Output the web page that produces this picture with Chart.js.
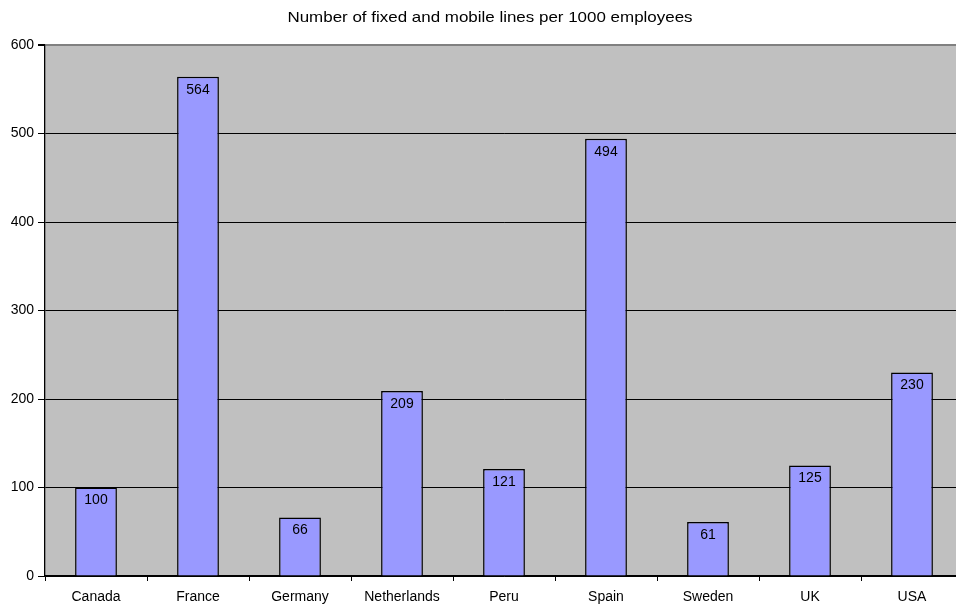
<!DOCTYPE html>
<html>
<head>
<meta charset="utf-8">
<script src="https://cdn.jsdelivr.net/npm/chart.js@4/dist/chart.umd.min.js"></script>
<style>
  html, body { margin: 0; padding: 0; background: #fff; overflow: hidden; }
  #wrap { width: 980px; height: 606px; }
</style>
</head>
<body>
<div id="wrap"><canvas id="lines" width="980" height="606"></canvas></div>
<script>
const countries = ['Canada', 'France', 'Germany', 'Netherlands', 'Peru', 'Spain', 'Sweden', 'UK', 'USA'];
const linesPer1000 = [100, 564, 66, 209, 121, 494, 61, 125, 230];
const yTicks = [0, 100, 200, 300, 400, 500, 600];

const titleText = 'Number of fixed and mobile lines per 1000 employees';
const font = 'Liberation Sans, Arial, sans-serif';

// grey plot area behind the bars
const plotBackground = {
    id: 'plotBackground',
    beforeDraw(chart) {
        const a = chart.chartArea;
        const c = chart.ctx;
        c.save();
        c.fillStyle = '#c0c0c0';
        c.fillRect(a.left, a.top, a.right - a.left, a.bottom - a.top);
        c.restore();
    }
};

// title (slightly widened) and the value written inside the top of each bar
const textLayer = {
    id: 'textLayer',
    afterDraw(chart) {
        const c = chart.ctx;
        c.save();
        c.fillStyle = '#000';
        c.textAlign = 'center';
        c.textBaseline = 'middle';

        c.save();
        c.translate(490, 18);
        c.scale(1.13, 1);
        c.font = '15px ' + font;
        c.fillText(titleText, 0, 0);
        c.restore();

        c.font = '14px ' + font;
        const meta = chart.getDatasetMeta(0);
        meta.data.forEach((bar, i) => {
            c.fillText(String(linesPer1000[i]), bar.x, bar.y + 13);
        });
        c.restore();
    }
};

new Chart(document.getElementById('lines').getContext('2d'), {
    type: 'bar',
    data: {
        labels: countries,
        datasets: [{
            data: linesPer1000,
            backgroundColor: '#9999ff',
            borderColor: '#000',
            borderWidth: 1.5,
            categoryPercentage: 1,
            barPercentage: 0.41
        }]
    },
    options: {
        responsive: false,
        animation: false,
        layout: { padding: { top: 45, right: 17, left: 0, bottom: 0 } },
        plugins: {
            legend: { display: false },
            title: { display: false },
            tooltip: { enabled: false }
        },
        scales: {
            y: {
                min: 0,
                max: 600,
                afterFit(scale) { scale.width = 45; },
                afterBuildTicks(scale) { scale.ticks = yTicks.map(v => ({ value: v })); },
                grid: {
                    color: ctx => (ctx.tick && ctx.tick.value === 600) ? '#808080' : '#000',
                    lineWidth: ctx => (ctx.tick && ctx.tick.value === 600) ? 2 : 1,
                    tickColor: '#000',
                    tickLength: 7
                },
                border: { color: '#000', width: 1.3 },
                ticks: {
                    color: '#000',
                    padding: 4,
                    font: { family: font, size: 14 }
                }
            },
            x: {
                afterFit(scale) { scale.height = 30; },
                grid: {
                    offset: true,
                    drawOnChartArea: false,
                    tickColor: '#000',
                    tickLength: 5
                },
                border: { color: '#000', width: 1.3 },
                ticks: {
                    color: '#000',
                    padding: 8,
                    font: { family: font, size: 14 }
                }
            }
        }
    },
    plugins: [plotBackground, textLayer]
});
</script>
</body>
</html>
